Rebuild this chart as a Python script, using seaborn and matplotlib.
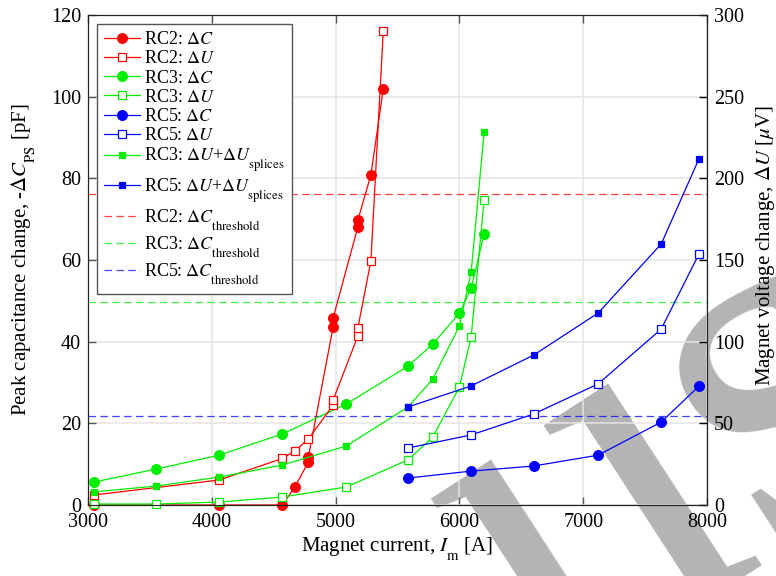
import numpy as np
import pandas as pd
import matplotlib
matplotlib.use("Agg")
import matplotlib.pyplot as plt
import seaborn as sns

try:
    import matplotlib._mathtext as _mt
    _mt.STIXFontConstants.sub1 = 1.0
    _mt.STIXFontConstants.subdrop = 0.6
except Exception:
    pass

# ---------------- data ----------------
rc2_x_c = [3045, 4060, 4570, 4670, 4780, 4780, 4980, 4980, 5180, 5180, 5285, 5385]
rc2_dc = [0, 0, 0, 4.4, 10.5, 11.7, 43.6, 45.8, 68.1, 69.8, 80.8, 101.9]
rc2_x_u = [3045, 4060, 4570, 4670, 4780, 4980, 4980, 5180, 5180, 5285, 5385]
rc2_du = [6.1, 15.3, 28.5, 33.0, 40.4, 61.2, 64.3, 103.5, 108.4, 149.4, 290.0]

rc3_x = [3045, 3550, 4060, 4570, 5085, 5585, 5785, 6000, 6095, 6200]
rc3_dc = [5.6, 8.8, 12.2, 17.4, 24.7, 34.0, 39.4, 47.0, 53.1, 66.4]
rc3_du = [0.6, 0.6, 1.8, 4.9, 11.0, 27.6, 41.6, 72.2, 102.9, 186.7]
rc3_du_spl = [8.0, 11.6, 17.1, 24.5, 36.1, 60.0, 77.1, 109.6, 142.7, 228.4]

rc5_x = [5585, 6095, 6600, 7120, 7630, 7935]
rc5_dc = [6.6, 8.3, 9.55, 12.2, 20.3, 29.1]
rc5_du = [34.9, 42.9, 55.7, 74.1, 107.7, 153.7]
rc5_du_spl = [60.0, 72.9, 91.8, 117.5, 159.8, 211.9]

thr_names = ["RC2", "RC3", "RC5"]
thr_values = [76.2, 49.8, 21.8]

x_ticks = [3000, 4000, 5000, 6000, 7000, 8000]
y_ticks = [0, 20, 40, 60, 80, 100, 120]
y2_ticks = [0, 50, 100, 150, 200, 250, 300]

# ---------------- style ----------------
plt.rcParams["font.family"] = ["Liberation Serif", "DejaVu Serif"]
plt.rcParams["mathtext.fontset"] = "stix"

RED, GREEN, BLUE = "#ff0000", "#00ee00", "#0000ff"
lw = 0.9

fig = plt.figure(figsize=(7.76, 5.76), dpi=100)
ax = fig.add_axes([88/776, 1 - 505/576, (707-88)/776, (505-15)/576])
ax.set_facecolor("none")
ax2 = ax.twinx()

# watermark
fig.text(0.872, 0.186, "us", fontsize=370, color="#b4b4b4", rotation=33,
         ha="center", va="center", zorder=-1, family="Liberation Serif")

ax.grid(True, color="#e4e4e4", lw=1.1, zorder=0)
ax.set_axisbelow(True)


def draw(axis, x, y, color, marker, ms, filled, label):
    df = pd.DataFrame({"x": x, "y": y})
    sns.lineplot(data=df, x="x", y="y", ax=axis, estimator=None, sort=False,
                 color=color, lw=lw, marker=marker, markersize=ms,
                 markerfacecolor=color if filled else "white",
                 markeredgecolor=color, markeredgewidth=0.9,
                 legend=False, label=label, clip_on=False)


draw(ax, rc2_x_c, rc2_dc, RED, "o", 7.0, True, r"RC2: $\Delta C$")
draw(ax2, rc2_x_u, rc2_du, RED, "s", 6.0, False, r"RC2: $\Delta U$")
draw(ax, rc3_x, rc3_dc, GREEN, "o", 7.0, True, r"RC3: $\Delta C$")
draw(ax2, rc3_x, rc3_du, GREEN, "s", 6.0, False, r"RC3: $\Delta U$")
draw(ax, rc5_x, rc5_dc, BLUE, "o", 7.0, True, r"RC5: $\Delta C$")
draw(ax2, rc5_x, rc5_du, BLUE, "s", 6.0, False, r"RC5: $\Delta U$")
draw(ax2, rc3_x, rc3_du_spl, GREEN, "s", 5.0, True,
     r"RC3: $\Delta U$+$\Delta U_{\mathrm{splices}}$")
draw(ax2, rc5_x, rc5_du_spl, BLUE, "s", 5.0, True,
     r"RC5: $\Delta U$+$\Delta U_{\mathrm{splices}}$")

for name, val, col in zip(thr_names, thr_values, [RED, GREEN, BLUE]):
    ax.axhline(val, color=col, lw=lw, alpha=0.75, dashes=(6, 3.5),
               label=name + r": $\Delta C_{\mathrm{threshold}}$", zorder=1)

ax.set_xlim(3000, 8000)
ax.set_ylim(0, 120)
ax2.set_ylim(0, 300)
ax.set_xticks(x_ticks)
ax.set_yticks(y_ticks)
ax2.set_yticks(y2_ticks)

ax.tick_params(axis="both", direction="in", length=6, width=1, color="#555555",
               labelsize=14.5, top=True, pad=5)
ax.tick_params(axis="x", pad=6)
ax2.tick_params(axis="y", direction="in", length=6, width=1, color="black",
                labelsize=14.5, pad=5)
for s in ["left", "bottom", "top", "right"]:
    ax.spines[s].set_color("#222222")
    ax2.spines[s].set_color("#222222")

ax.set_xlabel(r"Magnet current, $I_{\mathrm{m}}$ [A]", fontsize=15)
ax.set_ylabel(r"Peak capacitance change, -$\Delta C_{\mathrm{PS}}$ [pF]", fontsize=15)
ax2.set_ylabel(r"Magnet voltage change, $\Delta U$ [$\mu$V]", fontsize=15)
ax.xaxis.set_label_coords(0.5, -0.062)
ax.yaxis.set_label_coords(-0.083, 0.5)
ax2.yaxis.set_label_coords(1.074, 0.53)

h1, l1 = ax.get_legend_handles_labels()
h2, l2 = ax2.get_legend_handles_labels()
hd = dict(zip(l1 + l2, h1 + h2))
order = [r"RC2: $\Delta C$", r"RC2: $\Delta U$", r"RC3: $\Delta C$", r"RC3: $\Delta U$",
         r"RC5: $\Delta C$", r"RC5: $\Delta U$",
         r"RC3: $\Delta U$+$\Delta U_{\mathrm{splices}}$",
         r"RC5: $\Delta U$+$\Delta U_{\mathrm{splices}}$"] + \
        [n + r": $\Delta C_{\mathrm{threshold}}$" for n in thr_names]
leg = ax2.legend([hd[k] for k in order], order, loc="upper left",
                 bbox_to_anchor=(0.0145, 0.9816), borderaxespad=0, fontsize=13,
                 handlelength=2.0, handletextpad=0.2, labelspacing=0.12,
                 borderpad=0.4, fancybox=False, framealpha=1, edgecolor="#555555")
leg.get_frame().set_linewidth(1.0)

fig.savefig("out.png", dpi=100)
